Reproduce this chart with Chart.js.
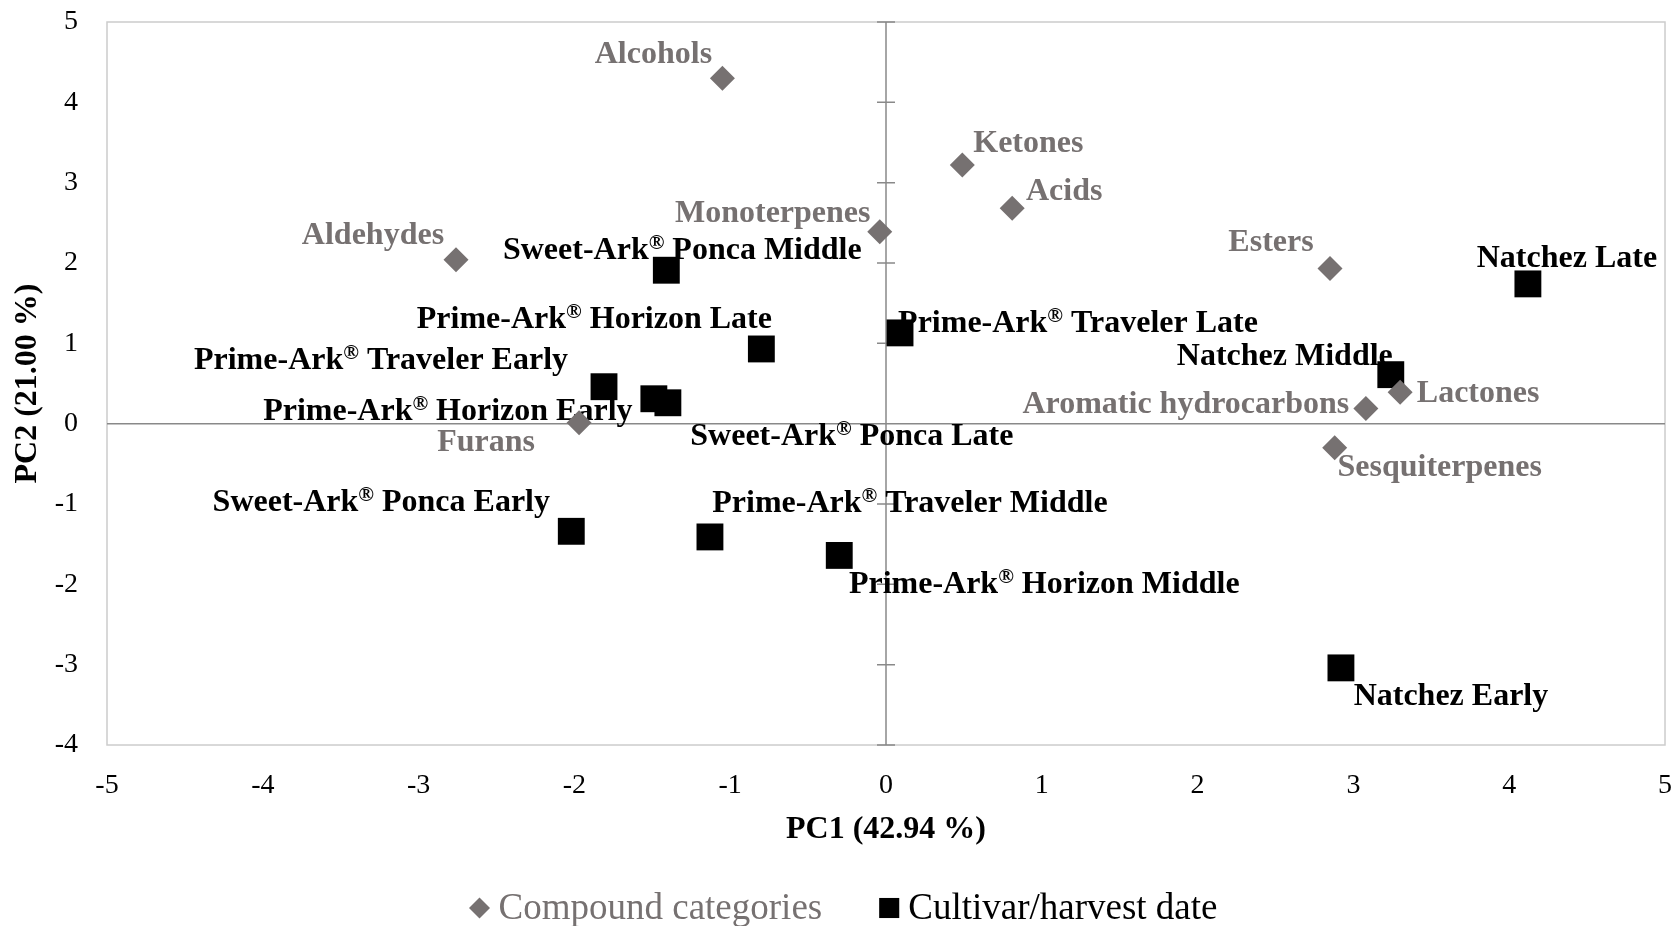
<!DOCTYPE html>
<html lang="en">
<head>
  <meta charset="UTF-8">
  <title>PCA biplot</title>
  <style>
    html, body { margin: 0; padding: 0; background: #fff; }
  </style>
</head>
<body>
<canvas id="pcaChart" width="1675" height="926"></canvas>
<script src="https://cdn.jsdelivr.net/npm/chart.js"></script>
<script>
  // compound categories (grey diamonds)
  const compoundNames = ['Alcohols', 'Ketones', 'Acids', 'Monoterpenes', 'Aldehydes', 'Esters',
    'Lactones', 'Aromatic hydrocarbons', 'Sesquiterpenes', 'Furans'];
  const compoundPC1 = [-1.05, 0.49, 0.81, -0.04, -2.76, 2.85, 3.30, 3.08, 2.88, -1.97];
  const compoundPC2 = [4.30, 3.22, 2.68, 2.39, 2.04, 1.93, 0.39, 0.19, -0.30, 0.01];

  // cultivar / harvest date (black squares)
  const sampleNames = ['Sweet-Ark® Ponca Middle', 'Prime-Ark® Horizon Late', 'Prime-Ark® Traveler Late',
    'Prime-Ark® Traveler Early', 'Prime-Ark® Horizon Early', 'Sweet-Ark® Ponca Late',
    'Sweet-Ark® Ponca Early', 'Prime-Ark® Traveler Middle', 'Prime-Ark® Horizon Middle',
    'Natchez Late', 'Natchez Middle', 'Natchez Early'];
  const samplePC1 = [-1.41, -0.80, 0.09, -1.81, -1.49, -1.40, -2.02, -1.13, -0.30, 4.12, 3.24, 2.92];
  const samplePC2 = [1.91, 0.93, 1.13, 0.46, 0.31, 0.26, -1.34, -1.41, -1.64, 1.74, 0.61, -3.04];

  const xRange = [-5, 5];
  const yRange = [-4, 5];

  // label placement, px from the marker: [centre x shift, baseline y shift]
  const compoundLabelShift = [[-69, -15], [66, -13], [52, -8], [-107, -10], [-83, -16], [-59, -18],
    [78, 10], [-180, 5], [105, 28], [-93, 28]];
  const sampleLabelShift = [[16, -11], [-167, -21], [178, -1], [-223, -18], [-206, 21], [184, 42],
    [-190, -20], [200, -25], [205, 38], [39, -17], [-106, -10], [110, 37]];

  const SERIF = '"Liberation Serif", "Times New Roman", serif';
  const GREY = '#767171';

  function toPoints(xs, ys) {
    return xs.map((x, i) => ({ x: x, y: ys[i] }));
  }

  // writes a label, with ® raised and smaller as in the original
  function drawLabel(ctx, text, cx, baseY, color) {
    const big = 'bold 32px ' + SERIF;
    const small = 'bold 21px ' + SERIF;
    const segs = [];
    text.split('®').forEach((p, k) => {
      if (k > 0) segs.push({ t: '®', sup: true });
      if (p) segs.push({ t: p, sup: false });
    });
    let total = 0;
    segs.forEach(s => {
      ctx.font = s.sup ? small : big;
      s.w = ctx.measureText(s.t).width;
      total += s.w;
    });
    let x = cx - total / 2;
    ctx.fillStyle = color;
    ctx.textAlign = 'left';
    ctx.textBaseline = 'alphabetic';
    segs.forEach(s => {
      ctx.font = s.sup ? small : big;
      ctx.fillText(s.t, x, s.sup ? baseY - 10 : baseY);
      x += s.w;
    });
  }

  const framePlugin = {
    id: 'frameAndZeroLines',
    beforeDatasetsDraw(chart) {
      const { ctx, chartArea: a, scales: { x, y } } = chart;
      ctx.save();
      ctx.strokeStyle = '#cccccc';
      ctx.lineWidth = 1.5;
      ctx.strokeRect(a.left, a.top, a.right - a.left, a.bottom - a.top);

      const x0 = x.getPixelForValue(0);
      const y0 = y.getPixelForValue(0);
      ctx.strokeStyle = '#898989';
      ctx.lineWidth = 1.5;
      ctx.beginPath();
      ctx.moveTo(a.left, y0); ctx.lineTo(a.right, y0);
      ctx.moveTo(x0, a.top); ctx.lineTo(x0, a.bottom);
      for (let v = yRange[0]; v <= yRange[1]; v++) {
        const py = y.getPixelForValue(v);
        ctx.moveTo(x0 - 9, py); ctx.lineTo(x0 + 9, py);
      }
      ctx.stroke();

      // labels go under the markers
      chart.data.datasets.forEach((ds, di) => {
        const meta = chart.getDatasetMeta(di);
        meta.data.forEach((pt, i) => {
          const s = ds.labelShift[i];
          drawLabel(ctx, ds.names[i], pt.x + s[0], pt.y + s[1], ds.labelColor);
        });
      });
      ctx.restore();
    }
  };

  const legendPlugin = {
    id: 'bottomLegend',
    afterDraw(chart) {
      const ctx = chart.ctx;
      const y = chart.height - 18;
      const font = '37px ' + SERIF;
      ctx.save();
      ctx.font = font;
      const items = chart.data.datasets.map(ds => ({
        ds: ds, w: 20 + 9 + ctx.measureText(ds.label).width
      }));
      const gap = 57;
      const total = items.reduce((s, it) => s + it.w, 0) + gap * (items.length - 1);
      let x = chart.width / 2 + 6 - total / 2;
      items.forEach(it => {
        ctx.fillStyle = it.ds.backgroundColor;
        Chart.helpers.drawPoint(ctx, {
          pointStyle: it.ds.pointStyle,
          radius: it.ds.pointStyle === 'rect' ? 14.2 : 10.5,
          rotation: 0, borderWidth: 0
        }, x + 10, y);
        ctx.fillStyle = it.ds.labelColor;
        ctx.font = font;
        ctx.textAlign = 'left';
        ctx.textBaseline = 'middle';
        ctx.fillText(it.ds.label, x + 29, y + 1);
        x += it.w + gap;
      });
      ctx.restore();
    }
  };

  new Chart(document.getElementById('pcaChart'), {
    type: 'scatter',
    data: {
      datasets: [
        {
          label: 'Compound categories',
          data: toPoints(compoundPC1, compoundPC2),
          names: compoundNames,
          labelShift: compoundLabelShift,
          labelColor: GREY,
          pointStyle: 'rectRot',
          pointRadius: 12.5,
          pointHoverRadius: 12.5,
          backgroundColor: GREY,
          borderWidth: 0
        },
        {
          label: 'Cultivar/harvest date',
          data: toPoints(samplePC1, samplePC2),
          names: sampleNames,
          labelShift: sampleLabelShift,
          labelColor: '#000000',
          pointStyle: 'rect',
          pointRadius: 19,
          pointHoverRadius: 19,
          backgroundColor: '#000000',
          borderWidth: 0
        }
      ]
    },
    options: {
      responsive: false,
      animation: false,
      // no extra room for the big markers, the frame goes to the edge like the original
      layout: { padding: 0, autoPadding: false },
      plugins: {
        legend: { display: false },
        tooltip: { enabled: false }
      },
      scales: {
        x: {
          type: 'linear',
          min: xRange[0],
          max: xRange[1],
          grid: { display: false, drawTicks: false },
          border: { display: false },
          // tall line height pushes the labels down while keeping the side padding small
          ticks: { stepSize: 1, padding: 3, color: '#000', font: { family: SERIF, size: 28, lineHeight: 2.72 } },
          title: {
            display: true,
            text: 'PC1 (42.94 %)',
            color: '#000',
            font: { family: SERIF, size: 32, weight: 'bold' },
            padding: { top: 0, bottom: 77 }
          },
          afterFit(scale) {
            scale.height = 181;
          }
        },
        y: {
          type: 'linear',
          min: yRange[0],
          max: yRange[1],
          grid: { display: false, drawTicks: false },
          border: { display: false },
          ticks: { stepSize: 1, padding: 29, color: '#000', font: { family: SERIF, size: 28 } },
          title: {
            display: true,
            text: 'PC2 (21.00 %)',
            color: '#000',
            font: { family: SERIF, size: 32, weight: 'bold' },
            padding: { top: 9, bottom: 0 }
          },
          afterFit(scale) {
            scale.width = 107;
            scale.paddingTop = 22;
            scale.paddingBottom = 0;
          }
        }
      }
    },
    plugins: [framePlugin, legendPlugin]
  });
</script>
</body>
</html>
